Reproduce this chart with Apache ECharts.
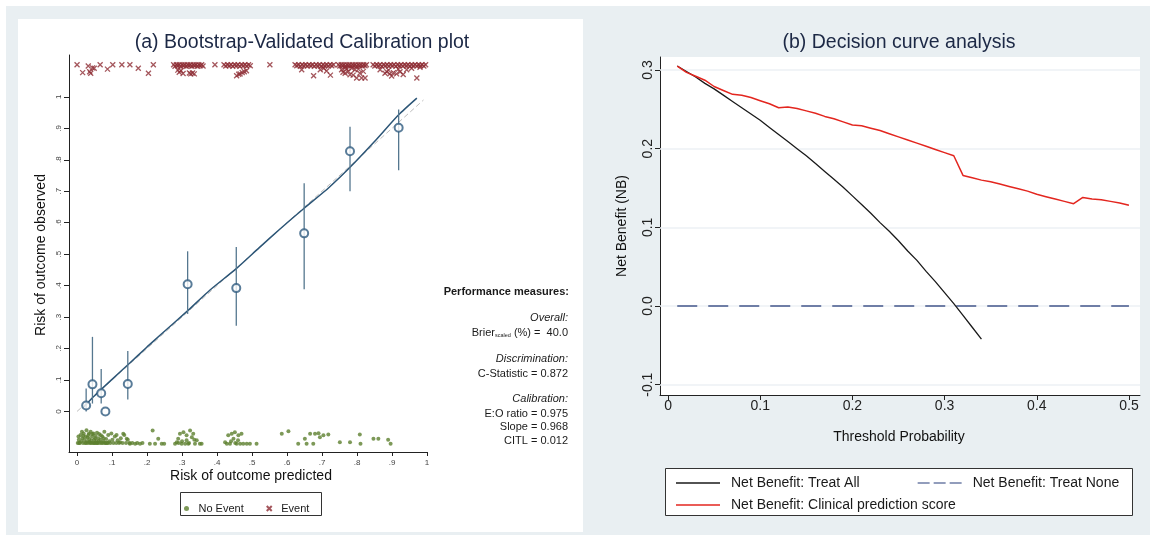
<!DOCTYPE html>
<html>
<head>
<meta charset="utf-8">
<script src="https://cdn.jsdelivr.net/npm/echarts@6/dist/echarts.min.js"></script>
<style>html,body{margin:0;padding:0;background:#fff}#c{width:1153px;height:540px}</style>
</head>
<body>
<div id="c"></div>
<script>
// ---------- Panel (a): calibration ----------
const calTicks = [0, 0.1, 0.2, 0.3, 0.4, 0.5, 0.6, 0.7, 0.8, 0.9, 1];
const calTickLabels = ['0', '.1', '.2', '.3', '.4', '.5', '.6', '.7', '.8', '.9', '1'];

const calPredicted = [0.026, 0.044, 0.069, 0.081, 0.145, 0.316, 0.455, 0.649, 0.780, 0.919];
const calObserved  = [0.019, 0.086, 0.058, 0.000, 0.087, 0.404, 0.392, 0.566, 0.827, 0.902];
const calLower     = [0.000, 0.025, 0.025, null,  0.038, 0.310, 0.272, 0.388, 0.700, 0.767];
const calUpper     = [0.073, 0.237, 0.135, null,  0.192, 0.509, 0.523, 0.725, 0.905, 0.960];

const smoothPredicted = [0.017, 0.05, 0.10, 0.15, 0.20, 0.237, 0.318, 0.38, 0.455, 0.52, 0.58, 0.649, 0.72, 0.78, 0.85, 0.919, 0.971];
const smoothObserved  = [0.012, 0.05, 0.102, 0.153, 0.205, 0.242, 0.322, 0.386, 0.454, 0.52, 0.58, 0.646, 0.712, 0.776, 0.858, 0.943, 0.996];

const refLine = [[0, 0], [0.99, 0.99]];

const eventPoints = [
  [0.000,1.102],[0.016,1.077],[0.032,1.098],[0.036,1.080],[0.039,1.075],[0.044,1.092],[0.049,1.091],[0.066,1.102],[0.087,1.088],[0.102,1.102],[0.128,1.102],[0.151,1.102],[0.175,1.091],[0.204,1.075],[0.218,1.102],
  [0.276,1.102],[0.280,1.097],[0.284,1.102],[0.288,1.099],[0.292,1.102],[0.296,1.097],[0.300,1.102],[0.304,1.099],[0.308,1.102],[0.312,1.097],[0.316,1.102],[0.320,1.099],[0.324,1.102],[0.328,1.097],[0.332,1.102],[0.336,1.099],[0.340,1.102],[0.344,1.097],[0.348,1.102],[0.352,1.099],[0.356,1.102],[0.360,1.098],
  [0.288,1.085],[0.292,1.078],[0.297,1.083],[0.303,1.074],[0.321,1.076],[0.325,1.073],[0.330,1.076],[0.335,1.073],
  [0.394,1.102],
  [0.420,1.102],[0.425,1.098],[0.430,1.102],[0.435,1.099],[0.440,1.102],[0.445,1.097],[0.450,1.102],[0.455,1.099],[0.460,1.102],[0.465,1.097],[0.470,1.102],[0.475,1.099],[0.480,1.102],[0.485,1.098],[0.490,1.102],[0.495,1.099],
  [0.456,1.067],[0.462,1.072],[0.466,1.073],[0.472,1.077],[0.478,1.080],[0.484,1.083],
  [0.551,1.102],
  [0.623,1.102],[0.628,1.099],[0.633,1.102],[0.638,1.097],[0.643,1.102],[0.648,1.099],[0.653,1.102],[0.658,1.098],[0.663,1.102],[0.668,1.099],[0.673,1.102],[0.678,1.097],[0.683,1.102],[0.688,1.099],[0.693,1.102],[0.698,1.097],[0.703,1.102],[0.708,1.099],[0.713,1.102],[0.718,1.098],[0.723,1.102],[0.728,1.099],[0.733,1.102],
  [0.642,1.086],[0.676,1.067],[0.695,1.086],[0.705,1.091],[0.724,1.069],[0.713,1.082],
  [0.747,1.102],[0.751,1.098],[0.755,1.102],[0.759,1.099],[0.763,1.102],[0.767,1.097],[0.771,1.102],[0.775,1.099],[0.779,1.102],[0.783,1.098],[0.787,1.102],[0.791,1.099],[0.795,1.102],[0.799,1.097],[0.803,1.102],[0.807,1.099],[0.811,1.102],[0.815,1.098],[0.819,1.102],[0.823,1.099],[0.827,1.102],
  [0.756,1.086],[0.766,1.075],[0.775,1.081],[0.780,1.070],[0.789,1.069],[0.794,1.086],[0.799,1.060],[0.808,1.075],[0.813,1.060],[0.818,1.081],[0.823,1.060],[0.766,1.092],[0.785,1.091],[0.804,1.088],[0.760,1.078],[0.771,1.089],
  [0.846,1.102],[0.851,1.098],[0.856,1.102],[0.861,1.099],[0.866,1.102],[0.871,1.097],[0.876,1.102],[0.881,1.099],[0.886,1.102],[0.891,1.098],[0.896,1.102],[0.901,1.099],[0.906,1.102],[0.911,1.097],[0.916,1.102],[0.921,1.099],[0.926,1.102],[0.931,1.098],[0.936,1.102],[0.941,1.099],[0.946,1.102],[0.951,1.098],[0.956,1.102],[0.961,1.099],[0.966,1.102],[0.971,1.098],[0.976,1.102],[0.981,1.099],[0.986,1.102],[0.991,1.098],[0.996,1.102],
  [0.866,1.086],[0.880,1.075],[0.890,1.085],[0.894,1.073],[0.904,1.077],[0.913,1.073],[0.923,1.080],[0.932,1.071],[0.942,1.086],[0.956,1.091],[0.971,1.060],[0.980,1.094],[0.885,1.080],[0.918,1.088],[0.899,1.066]
];

const noEventPoints = [
  [0.002,-0.100],[0.004,-0.080],[0.005,-0.090],[0.006,-0.100],[0.008,-0.100],[0.010,-0.075],[0.012,-0.095],[0.014,-0.065],[0.015,-0.085],[0.017,-0.100],[0.018,-0.078],[0.019,-0.070],[0.021,-0.090],[0.023,-0.100],[0.025,-0.080],[0.026,-0.100],[0.027,-0.060],[0.029,-0.095],[0.030,-0.083],[0.031,-0.100],[0.033,-0.075],[0.034,-0.070],[0.035,-0.088],[0.036,-0.097],[0.037,-0.100],[0.039,-0.065],[0.040,-0.100],[0.041,-0.092],[0.043,-0.080],[0.044,-0.072],[0.045,-0.100],[0.047,-0.070],[0.048,-0.100],[0.049,-0.090],[0.051,-0.100],[0.052,-0.085],[0.053,-0.078],[0.054,-0.100],[0.055,-0.095],[0.057,-0.068],[0.058,-0.100],[0.059,-0.100],[0.061,-0.085],[0.062,-0.095],[0.063,-0.072],[0.065,-0.100],[0.067,-0.090],[0.068,-0.076],[0.070,-0.100],[0.072,-0.080],[0.074,-0.100],[0.075,-0.095],[0.076,-0.085],[0.078,-0.065],[0.080,-0.100],[0.082,-0.100],[0.083,-0.088],[0.086,-0.100],[0.088,-0.100],[0.089,-0.075],[0.092,-0.095],[0.095,-0.100],[0.098,-0.070],[0.101,-0.090],[0.104,-0.100],[0.108,-0.080],[0.112,-0.100],[0.113,-0.075],[0.116,-0.092],[0.120,-0.100],[0.123,-0.098],[0.125,-0.085],[0.130,-0.100],[0.132,-0.071],[0.135,-0.075],[0.140,-0.100],[0.142,-0.087],[0.145,-0.090],[0.150,-0.100],[0.151,-0.103],[0.158,-0.100],[0.166,-0.103],[0.172,-0.100],[0.180,-0.103],[0.187,-0.100],
  [0.208,-0.103],[0.216,-0.061],[0.223,-0.103],[0.232,-0.087],[0.242,-0.103],[0.249,-0.103],
  [0.280,-0.103],[0.285,-0.098],[0.289,-0.087],[0.294,-0.071],[0.299,-0.103],[0.304,-0.066],[0.309,-0.103],[0.313,-0.076],[0.313,-0.092],[0.318,-0.103],[0.323,-0.061],[0.328,-0.082],[0.332,-0.071],[0.337,-0.103],[0.342,-0.092],[0.351,-0.103],[0.356,-0.103],[0.290,-0.100],[0.300,-0.095],[0.320,-0.100],[0.335,-0.090],
  [0.423,-0.098],[0.428,-0.103],[0.432,-0.076],[0.437,-0.103],[0.442,-0.071],[0.447,-0.087],[0.451,-0.066],[0.456,-0.103],[0.461,-0.076],[0.466,-0.103],[0.470,-0.071],[0.475,-0.103],[0.485,-0.103],[0.494,-0.103],[0.513,-0.103],[0.440,-0.095],[0.452,-0.100],[0.460,-0.092],
  [0.585,-0.071],[0.604,-0.063],[0.632,-0.103],[0.651,-0.087],[0.656,-0.103],[0.666,-0.071],[0.675,-0.103],[0.680,-0.071],[0.690,-0.069],[0.694,-0.082],[0.704,-0.076],[0.718,-0.073],[0.751,-0.098],[0.780,-0.098],[0.808,-0.073],[0.810,-0.103],[0.847,-0.087],[0.861,-0.087],[0.889,-0.090],[0.896,-0.103]
];

const perfLines = [
  { text: 'Performance measures:', style: 'bold' },
  { text: 'Overall:', style: 'italic' },
  { text: 'BRIER', style: 'brier' },
  { text: 'Discrimination:', style: 'italic' },
  { text: 'C-Statistic = 0.872', style: 'normal' },
  { text: 'Calibration:', style: 'italic' },
  { text: 'E:O ratio = 0.975', style: 'normal' },
  { text: 'Slope = 0.968', style: 'normal' },
  { text: 'CITL = 0.012', style: 'normal' }
];
const brierValue = '40.0';

// ---------- Panel (b): decision curve ----------
const dcaXTicks = [0, 0.1, 0.2, 0.3, 0.4, 0.5];
const dcaXTickLabels = ['0', '0.1', '0.2', '0.3', '0.4', '0.5'];
const dcaYTicks = [-0.1, 0, 0.1, 0.2, 0.3];
const dcaYTickLabels = ['-0.1', '0.0', '0.1', '0.2', '0.3'];

const thresholds = [0.01,0.02,0.03,0.04,0.05,0.06,0.07,0.08,0.09,0.10,0.11,0.12,0.13,0.14,0.15,0.16,0.17,0.18,0.19,0.20,0.21,0.22,0.23,0.24,0.25,0.26,0.27,0.28,0.29,0.30,0.31,0.32,0.33,0.34,0.35,0.36,0.37,0.38,0.39,0.40,0.41,0.42,0.43,0.44,0.45,0.46,0.47,0.48,0.49,0.50];
const nbTreatAll = [0.305,0.298,0.291,0.283,0.276,0.268,0.260,0.252,0.244,0.236,0.227,0.218,0.209,0.200,0.191,0.181,0.171,0.161,0.151,0.140,0.129,0.118,0.106,0.095,0.083,0.070,0.058,0.044,0.031,0.017,0.003,-0.012,-0.027,-0.042];
const nbModel = [0.305,0.297,0.292,0.287,0.279,0.274,0.269,0.268,0.265,0.261,0.257,0.252,0.253,0.251,0.248,0.245,0.241,0.238,0.234,0.230,0.229,0.226,0.223,0.219,0.215,0.211,0.207,0.203,0.199,0.195,0.191,0.166,0.163,0.160,0.158,0.155,0.152,0.149,0.146,0.142,0.139,0.136,0.133,0.130,0.138,0.136,0.135,0.133,0.131,0.128];
const treatNoneX = [0.01, 0.50];
const treatNoneY = [0, 0];

// ---------- build ----------
const FONT = '"Liberation Sans", Arial, Helvetica, sans-serif';
function fmt(ticks, labels) {
  return function (v) {
    const i = ticks.findIndex(t => Math.abs(t - v) < 1e-6);
    return i >= 0 ? labels[i] : '';
  };
}
const ciData = [];
calPredicted.forEach((x, i) => { if (calLower[i] !== null) ciData.push([x, calLower[i], calUpper[i]]); });
const calPoints = calPredicted.map((x, i) => [x, calObserved[i]]);
const smoothData = smoothPredicted.map((x, i) => [x, smoothObserved[i]]);
const allData = nbTreatAll.map((v, i) => [thresholds[i], v]);
const modelData = nbModel.map((v, i) => [thresholds[i], v]);
const noneData = treatNoneX.map((x, i) => [x, treatNoneY[i]]);

const perfY = [292, 318, 332.5, 359, 373.5, 399, 413.5, 427, 440.5];
const perfGraphics = perfLines.map((ln, i) => {
  if (ln.style === 'brier') {
    return {
      type: 'text', x: 568, y: perfY[i], z: 10,
      style: {
        text: '{a|Brier}{b|scaled}{a| (%) =  ' + brierValue + '}',
        align: 'right', verticalAlign: 'middle',
        rich: {
          a: { fontSize: 11, fontFamily: FONT, fill: '#1a1a1a', lineHeight: 12, verticalAlign: 'middle' },
          b: { fontSize: 5.5, fontFamily: FONT, fill: '#1a1a1a', lineHeight: 6, verticalAlign: 'bottom' }
        }
      }
    };
  }
  const w = ln.style === 'bold' ? 'bold ' : '';
  const it = ln.style === 'italic' ? 'italic ' : '';
  return {
    type: 'text', x: ln.style === 'bold' ? 569 : 568, y: perfY[i], z: 10,
    style: { text: ln.text, font: it + w + '11px ' + FONT, fill: '#1a1a1a', align: 'right', verticalAlign: 'middle' }
  };
});

const xSymbol = 'path://M0,0L10,10M10,0L0,10';
const solidIcon = 'path://M0,0h44v1.5h-44z';
const dashIcon = 'path://M0,0h12v1.5h-12zM16,0h12v1.5h-12zM32,0h12v1.5h-12z';

const option = {
  animation: false,
  textStyle: { fontFamily: FONT },
  graphic: [
    { type: 'rect', z: -20, shape: { x: 6, y: 6, width: 1144, height: 529 }, style: { fill: '#e9eff2' } },
    { type: 'rect', z: -19, shape: { x: 18, y: 19, width: 565, height: 513 }, style: { fill: '#ffffff' } },
    { type: 'text', x: 302, y: 43, z: 10, style: { text: '(a) Bootstrap-Validated Calibration plot', font: '19.5px ' + FONT, fill: '#1c2845', align: 'center', verticalAlign: 'middle' } },
    { type: 'text', x: 899, y: 43, z: 10, style: { text: '(b) Decision curve analysis', font: '19.5px ' + FONT, fill: '#1c2845', align: 'center', verticalAlign: 'middle' } },
    { type: 'text', x: 41, y: 255, rotation: Math.PI / 2, z: 10, style: { text: 'Risk of outcome observed', font: '14px ' + FONT, fill: '#111', align: 'center', verticalAlign: 'middle' } },
    { type: 'text', x: 251, y: 476, z: 10, style: { text: 'Risk of outcome predicted', font: '14px ' + FONT, fill: '#111', align: 'center', verticalAlign: 'middle' } },
    { type: 'text', x: 622, y: 226, rotation: Math.PI / 2, z: 10, style: { text: 'Net Benefit (NB)', font: '14px ' + FONT, fill: '#111', align: 'center', verticalAlign: 'middle' } },
    { type: 'text', x: 899, y: 437, z: 10, style: { text: 'Threshold Probability', font: '14px ' + FONT, fill: '#111', align: 'center', verticalAlign: 'middle' } },
    { type: 'rect', z: 5, shape: { x: 180.5, y: 492.5, width: 141, height: 23 }, style: { fill: '#fff', stroke: '#333', lineWidth: 1 } },
    { type: 'rect', z: 5, shape: { x: 665.5, y: 468.5, width: 467, height: 47 }, style: { fill: '#fff', stroke: '#333', lineWidth: 1 } }
  ].concat(perfGraphics),
  legend: [
    {
      data: ['No Event', 'Event'], left: 179, top: 498, itemWidth: 14, itemHeight: 5, itemGap: 22, z: 20,
      textStyle: { fontSize: 11, color: '#1a1a1a', fontFamily: FONT }
    },
    {
      data: [{ name: 'Net Benefit: Treat All', icon: solidIcon }, { name: 'Net Benefit: Treat None', icon: dashIcon }],
      left: 671, top: 471, itemWidth: 44, itemHeight: 14, itemGap: 58, z: 20,
      textStyle: { fontSize: 14, color: '#1a1a1a', fontFamily: FONT, padding: [0, 0, 0, 6] }
    },
    {
      data: [{ name: 'Net Benefit: Clinical prediction score', icon: solidIcon }],
      left: 671, top: 493, itemWidth: 44, itemHeight: 14, z: 20,
      textStyle: { fontSize: 14, color: '#1a1a1a', fontFamily: FONT, padding: [0, 0, 0, 6] }
    }
  ],
  grid: [
    { left: 69, top: 55, width: 358, height: 397, show: false },
    { left: 660, top: 57, width: 480, height: 338, show: true, backgroundColor: '#ffffff', borderWidth: 0 }
  ],
  xAxis: [
    {
      gridIndex: 0, type: 'value', min: -0.023, max: 1.0,
      axisLine: { show: true, onZero: false, lineStyle: { color: '#222', width: 1 } },
      axisTick: { show: true, length: 4, customValues: calTicks, lineStyle: { color: '#222' } },
      axisLabel: { customValues: calTicks, formatter: fmt(calTicks, calTickLabels), fontSize: 8, color: '#444', margin: 7 },
      splitLine: { show: false }
    },
    {
      gridIndex: 1, type: 'value', min: -0.0087, max: 0.512,
      axisLine: { show: true, onZero: false, lineStyle: { color: '#222', width: 1 } },
      axisTick: { show: true, length: 5, customValues: dcaXTicks, lineStyle: { color: '#222' } },
      axisLabel: { customValues: dcaXTicks, formatter: fmt(dcaXTicks, dcaXTickLabels), fontSize: 14, color: '#222', margin: 4 },
      splitLine: { show: false }
    }
  ],
  yAxis: [
    {
      gridIndex: 0, type: 'value', min: -0.129, max: 1.133,
      axisLine: { show: true, onZero: false, lineStyle: { color: '#222', width: 1 } },
      axisTick: { show: true, length: 5, customValues: calTicks, lineStyle: { color: '#222' } },
      axisLabel: { customValues: calTicks, formatter: fmt(calTicks, calTickLabels), fontSize: 8, color: '#444', margin: 6, rotate: 90 },
      splitLine: { show: false }
    },
    {
      gridIndex: 1, type: 'value', min: -0.1131, max: 0.3165,
      axisLine: { show: true, onZero: false, lineStyle: { color: '#222', width: 1 } },
      axisTick: { show: true, length: 5, customValues: dcaYTicks, lineStyle: { color: '#222' } },
      axisLabel: { customValues: dcaYTicks, formatter: fmt(dcaYTicks, dcaYTickLabels), fontSize: 14, color: '#222', margin: 5, rotate: 90 },
      splitLine: { show: false }
    }
  ],
  series: [
    // ---- panel a ----
    {
      name: 'Reference', type: 'line', xAxisIndex: 0, yAxisIndex: 0, data: refLine, symbol: 'none', z: 2,
      lineStyle: { color: '#bdbdbd', width: 1, type: [5, 3] }
    },
    {
      name: 'Smoothed', type: 'line', xAxisIndex: 0, yAxisIndex: 0, data: smoothData, symbol: 'none', smooth: 0.2, z: 3,
      lineStyle: { color: '#2c5576', width: 1.5 }
    },
    {
      name: 'CI', type: 'custom', xAxisIndex: 0, yAxisIndex: 0, data: ciData, z: 4,
      encode: { x: 0, y: [1, 2] },
      renderItem: function (params, api) {
        const p1 = api.coord([api.value(0), api.value(1)]);
        const p2 = api.coord([api.value(0), api.value(2)]);
        return { type: 'line', shape: { x1: p1[0], y1: p1[1], x2: p2[0], y2: p2[1] }, style: { stroke: '#55778f', lineWidth: 1.3 } };
      }
    },
    {
      name: 'Grouped', type: 'scatter', xAxisIndex: 0, yAxisIndex: 0, data: calPoints, z: 5,
      symbol: 'emptyCircle', symbolSize: 8,
      itemStyle: { color: '#2f5b80', borderColor: '#2f5b80', borderWidth: 1.1 }
    },
    {
      name: 'No Event', type: 'scatter', xAxisIndex: 0, yAxisIndex: 0, data: noEventPoints, z: 3,
      symbol: 'circle', symbolSize: 4, itemStyle: { color: '#5d7f2e' }, clip: false
    },
    {
      name: 'Event', type: 'scatter', xAxisIndex: 0, yAxisIndex: 0, data: eventPoints, z: 3,
      symbol: xSymbol, symbolSize: 5, clip: false,
      itemStyle: { color: 'rgba(0,0,0,0)', borderColor: '#8d2c33', borderWidth: 1.3 }
    },
    // ---- panel b ----
    {
      name: 'gridlines', type: 'line', xAxisIndex: 1, yAxisIndex: 1, data: [], z: 1, silent: true,
      markLine: {
        z: 1, silent: true, symbol: 'none', label: { show: false },
        lineStyle: { color: '#edf1f4', width: 1.5, type: 'solid' },
        data: dcaYTicks.map(v => ({ yAxis: v }))
      }
    },
    {
      name: 'Net Benefit: Treat None', type: 'line', xAxisIndex: 1, yAxisIndex: 1, data: noneData, symbol: 'none', z: 3,
      lineStyle: { color: '#6f7ea6', width: 1.8, type: [20, 11] }, itemStyle: { color: '#6f7ea6' }
    },
    {
      name: 'Net Benefit: Treat All', type: 'line', xAxisIndex: 1, yAxisIndex: 1, data: allData, symbol: 'none', z: 4,
      lineStyle: { color: '#1a1a1a', width: 1.3 }, itemStyle: { color: '#1a1a1a' }
    },
    {
      name: 'Net Benefit: Clinical prediction score', type: 'line', xAxisIndex: 1, yAxisIndex: 1, data: modelData, symbol: 'none', z: 5,
      lineStyle: { color: '#e3261f', width: 1.5 }, itemStyle: { color: '#e3261f' }
    }
  ]
};

const chart = echarts.init(document.getElementById('c'), null, { renderer: 'canvas', width: 1153, height: 540 });
chart.setOption(option);
</script>
</body>
</html>
